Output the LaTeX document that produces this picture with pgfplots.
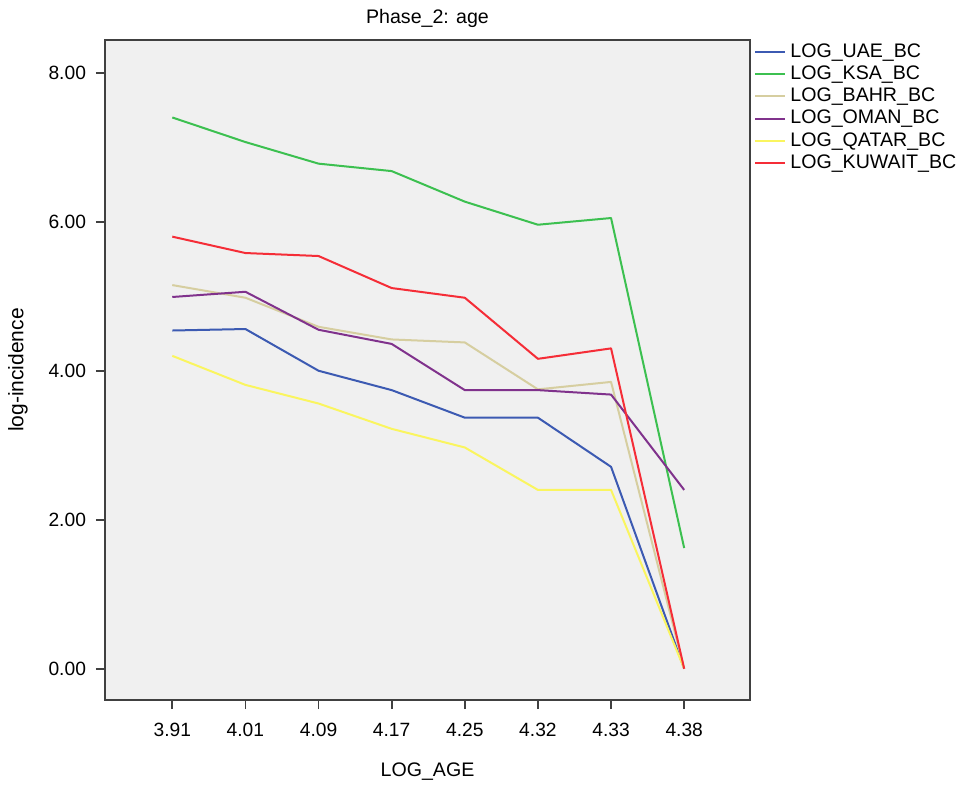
\documentclass[border=0pt]{standalone}
\usepackage{fontspec}
\setmainfont{Liberation Sans}
\usepackage{pgfplots}
\pgfplotsset{compat=1.18}
\definecolor{cUAE}{RGB}{60,90,178}
\definecolor{cKSA}{RGB}{60,192,80}
\definecolor{cBAHR}{RGB}{214,206,160}
\definecolor{cOMAN}{RGB}{128,50,140}
\definecolor{cQATAR}{RGB}{250,245,95}
\definecolor{cKUW}{RGB}{245,45,55}
\definecolor{bg}{RGB}{240,240,240}
\begin{document}
\begin{tikzpicture}
\path (-52.5pt,-43pt) rectangle (430pt,350pt);
\begin{axis}[
  scale only axis,
  width=322.5pt, height=330pt,
  at={(0,0)}, anchor=south west,
  axis background/.style={fill=bg},
  axis line style={draw=black!75, line width=0.9pt},
  xmin=-0.92, xmax=7.90,
  ymin=-0.42, ymax=8.44,
  xtick={0,1,2,3,4,5,6,7},
  xticklabels={3.91,4.01,4.09,4.17,4.25,4.32,4.33,4.38},
  ytick={0,2,4,6,8},
  yticklabels={0.00,2.00,4.00,6.00,8.00},
  tick align=outside,
  major tick length=4.5pt,
  tick style={draw=black!75, line width=0.9pt},
  xtick pos=bottom, ytick pos=left,
  /pgf/number format/assume math mode=true,
  ticklabel style={font=\fontsize{9.6}{11}\selectfont},
  xticklabel style={yshift=-3.5pt},
  yticklabel style={xshift=-1.5pt},
  title={Phase\_2: age},
  title style={at={(axis description cs:0.5,1)}, anchor=center, yshift=5pt, font=\fontsize{9.8}{11}\selectfont},
  xlabel={LOG\_AGE},
  xlabel style={at={(axis description cs:0.5,0)}, anchor=center, yshift=-36pt, font=\fontsize{9.8}{11}\selectfont},
  ylabel={log-incidence},
  ylabel style={at={(axis description cs:-0.135,0.5)}, anchor=center, font=\fontsize{10.5}{11}\selectfont},
  legend style={at={(axis description cs:1,1)}, anchor=north west, draw=none, fill=none,
    font=\fontsize{9.8}{11}\selectfont, row sep=-1.2pt, xshift=1pt, yshift=1.5pt, inner sep=1pt},
  legend cell align=left,
  legend image code/.code={\draw[#1] (0pt,0pt) -- (15pt,0pt);},
  every axis plot/.append style={line width=1pt, line join=round},
]
\addplot[color=cUAE] coordinates {(0,4.54) (1,4.56) (2,4.00) (3,3.74) (4,3.37) (5,3.37) (6,2.71) (7,0.00)};
\addlegendentry{LOG\_UAE\_BC}
\addplot[color=cKSA] coordinates {(0,7.40) (1,7.07) (2,6.78) (3,6.68) (4,6.27) (5,5.96) (6,6.05) (7,1.62)};
\addlegendentry{LOG\_KSA\_BC}
\addplot[color=cBAHR] coordinates {(0,5.15) (1,4.98) (2,4.59) (3,4.42) (4,4.38) (5,3.75) (6,3.85) (7,0.00)};
\addlegendentry{LOG\_BAHR\_BC}
\addplot[color=cOMAN] coordinates {(0,4.99) (1,5.06) (2,4.55) (3,4.36) (4,3.74) (5,3.74) (6,3.68) (7,2.40)};
\addlegendentry{LOG\_OMAN\_BC}
\addplot[color=cQATAR] coordinates {(0,4.20) (1,3.81) (2,3.56) (3,3.22) (4,2.97) (5,2.40) (6,2.40) (7,0.00)};
\addlegendentry{LOG\_QATAR\_BC}
\addplot[color=cKUW] coordinates {(0,5.80) (1,5.58) (2,5.54) (3,5.11) (4,4.98) (5,4.16) (6,4.30) (7,0.00)};
\addlegendentry{LOG\_KUWAIT\_BC}
\end{axis}
\end{tikzpicture}
\end{document}
